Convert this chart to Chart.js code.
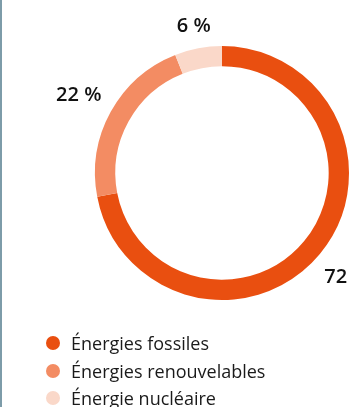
<!DOCTYPE html>
<html>
<head>
<meta charset="utf-8">
<script src="https://cdn.jsdelivr.net/npm/chart.js@4/dist/chart.umd.min.js"></script>
<style>
  html, body { margin: 0; padding: 0; background: #fff; }
  body { width: 353px; height: 407px; overflow: hidden; position: relative; border-left: 2px solid #7d9ca9; box-sizing: border-box; }
  #wrap { position: absolute; left: 20px; top: 0; width: 400px; height: 347px; }
  #legend { position: absolute; left: 44px; top: 329px; margin: 0; padding: 0; list-style: none; font-family: "Open Sans", sans-serif; font-size: 18px; color: #1a1a1a; }
  #legend li { display: flex; align-items: center; height: 27.7px; }
  #legend .dot { width: 14px; height: 14px; border-radius: 50%; margin-right: 11px; }
</style>
</head>
<body>
<div id="wrap"><canvas id="chart"></canvas></div>
<ul id="legend"></ul>
<script>
// Energy mix donut
const categories = ["Énergies fossiles", "Énergies renouvelables", "Énergie nucléaire"];
const shares = [72, 22, 6];
const colors = ["#e94f10", "#f38c63", "#fad8c9"];

// draws "xx %" outside each slice, along its middle angle
const outsideLabels = {
  id: "outsideLabels",
  afterDatasetsDraw(chart) {
    const { ctx } = chart;
    const meta = chart.getDatasetMeta(0);
    ctx.save();
    ctx.font = "600 20px 'Open Sans', sans-serif";
    ctx.fillStyle = "#111";
    ctx.textAlign = "center";
    ctx.textBaseline = "middle";
    meta.data.forEach((arc, i) => {
      const p = arc.getProps(["x", "y", "startAngle", "endAngle", "outerRadius"], true);
      const mid = (p.startAngle + p.endAngle) / 2;
      const text = shares[i] + " %";
      const w = ctx.measureText(text).width;
      const h = 15;
      const dx = Math.cos(mid);
      const dy = Math.sin(mid);
      const half = Math.abs(dx) * w / 2 + Math.abs(dy) * h / 2;
      const r = p.outerRadius + 13 + half;
      ctx.fillText(text, p.x + dx * r, p.y + dy * r + 1);
    });
    ctx.restore();
  },
};

const chart = new Chart(document.getElementById("chart"), {
  type: "doughnut",
  data: {
    labels: categories,
    datasets: [
      {
        data: shares,
        backgroundColor: colors,
        borderWidth: 0,
      },
    ],
  },
  options: {
    responsive: true,
    maintainAspectRatio: false,
    animation: false,
    cutout: "84%",
    layout: { padding: { top: 46, bottom: 47, left: 0, right: 0 } },
    plugins: {
      legend: { display: false },
      tooltip: { enabled: false },
    },
  },
  plugins: [outsideLabels],
});

// html legend, one item per row
const legendEl = document.getElementById("legend");
categories.forEach((name, i) => {
  const li = document.createElement("li");
  li.innerHTML = `<span class="dot" style="background:${colors[i]}"></span>${name}`;
  legendEl.appendChild(li);
});
</script>
</body>
</html>
